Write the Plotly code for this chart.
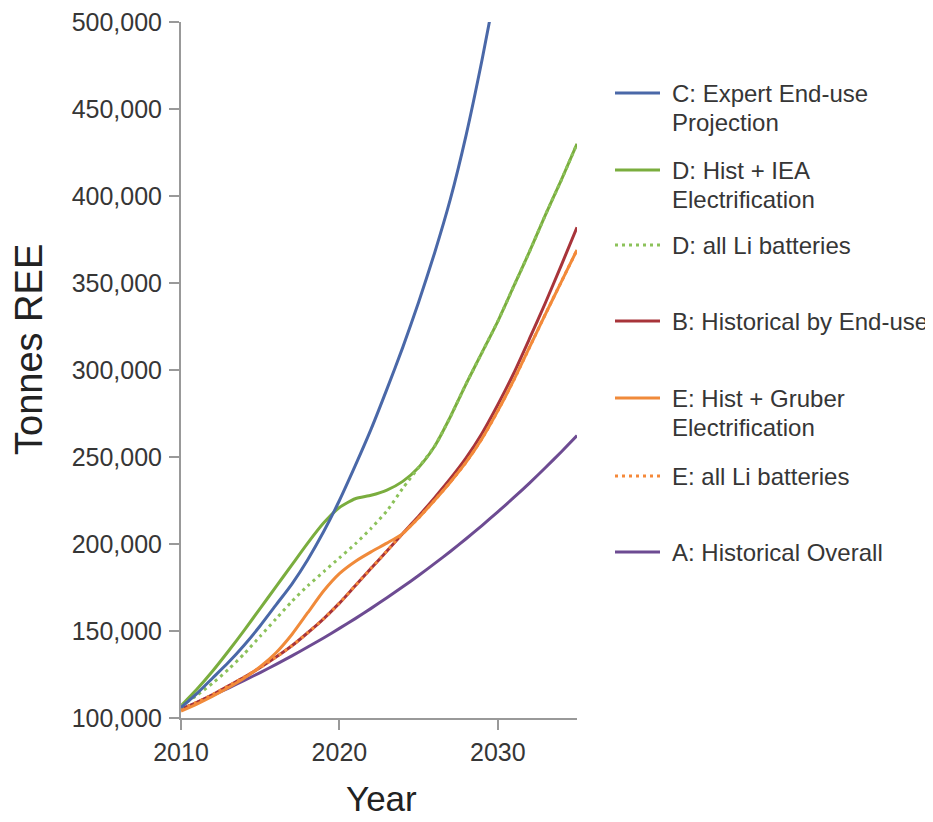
import plotly.graph_objects as go

years = list(range(2010, 2036))

# values in tonnes REE
c_expert = [106000, 114000, 123000, 132000, 142000, 153000, 165000, 177000, 191000, 207000,
            225000, 245000, 266000, 289000, 313000, 339000, 367000, 398000, 435000, 478000,
            525000]
d_iea = [107000, 116500, 127000, 138500, 150500, 163000, 175500, 188000, 200500, 212000,
         221000, 226000, 228000, 231000, 236000, 244000, 256000, 273000, 292000, 310000,
         328000, 348000, 368000, 389000, 409000, 430000]
d_li = [107000, 113000, 120000, 128000, 137000, 147000, 157000, 167000, 176000, 184000,
        192000, 200000, 209000, 219000, 232000, 244000, 256000, 273000, 292000, 310000,
        328000, 348000, 368000, 389000, 409000, 430000]
b_hist_enduse = [105000, 109000, 113500, 118500, 123500, 129000, 135000, 141500, 149000, 157000,
                 166000, 176000, 186000, 196000, 206000, 216000, 226500, 237500, 249500, 263500,
                 280000, 298000, 318000, 338500, 360000, 382000]
e_gruber = [104000, 108000, 112500, 117500, 123000, 129500, 137500, 148000, 160500, 173000,
            183000, 190000, 195500, 200500, 206000, 215000, 225000, 235500, 247000, 260500,
            276500, 294000, 313000, 332000, 350500, 369000]
e_li = [105000, 109000, 113500, 118500, 123500, 129000, 135000, 141500, 149000, 157000,
        166000, 176000, 186000, 196000, 206000, 215000, 225000, 235500, 247000, 260500,
        276500, 294000, 313000, 332000, 350500, 369000]
a_hist_overall = [105000, 108900, 113000, 117200, 121600, 126100, 130800, 135700, 140800, 146000,
                  151500, 157100, 163000, 169100, 175400, 181900, 188700, 195700, 203000, 210600,
                  218500, 226600, 235000, 243800, 252900, 262300]

x_ticks = [2010, 2020, 2030]
y_ticks = [100000, 150000, 200000, 250000, 300000, 350000, 400000, 450000, 500000]

BLUE = "#4a68a8"
GREEN = "#7aad3e"
GREEN_DOT = "#8cc25a"
RED = "#a8343a"
ORANGE = "#f08a3a"
ORANGE_DOT = "#f5893a"
PURPLE = "#6d4b92"
TXT = "#363636"
AXIS = "#999999"
FONT = "Liberation Sans, Arial, sans-serif"
DOT = "3px,4px"

series = [
    ("A: Historical Overall", a_hist_overall, PURPLE, "solid"),
    ("B: Historical by End-use", b_hist_enduse, RED, "solid"),
    ("E: Hist + Gruber Electrification", e_gruber, ORANGE, "solid"),
    ("E: all Li batteries", e_li, ORANGE_DOT, DOT),
    ("D: Hist + IEA Electrification", d_iea, GREEN, "solid"),
    ("D: all Li batteries", d_li, GREEN_DOT, DOT),
    ("C: Expert End-use Projection", c_expert, BLUE, "solid"),
]

fig = go.Figure()
for name, vals, col, dash in series:
    fig.add_trace(go.Scatter(
        x=years[:len(vals)], y=vals, mode="lines", name=name,
        line=dict(color=col, width=3, dash=dash, shape="spline", smoothing=0.6),
        showlegend=False,
    ))

# page body has an 8px margin, so the figure is drawn 8px smaller and offset
OFF = 8
W, H = 933 - OFF, 822 - OFF
L, T = 181 - OFF, 22 - OFF
PR, PB = 577 - OFF, 718 - OFF
R, B = W - PR, H - PB
PW, PH = PR - L, PB - T


def px(x_ref):
    return (x_ref - OFF - L) / PW


def py(y_ref):
    return (PB - (y_ref - OFF)) / PH


legend_items = [
    (["C: Expert End-use", "Projection"], BLUE, "solid", 93),
    (["D: Hist + IEA", "Electrification"], GREEN, "solid", 170),
    (["D: all Li batteries"], GREEN_DOT, DOT, 245),
    (["B: Historical by End-use"], RED, "solid", 321),
    (["E: Hist + Gruber", "Electrification"], ORANGE, "solid", 398),
    (["E: all Li batteries"], ORANGE_DOT, DOT, 476),
    (["A: Historical Overall"], PURPLE, "solid", 552),
]

shapes = []
annotations = []
for lines, col, dash, yl in legend_items:
    shapes.append(dict(type="line", xref="paper", yref="paper",
                       x0=px(615), x1=px(660), y0=py(yl), y1=py(yl),
                       line=dict(color=col, width=3, dash=dash)))
    for i, t in enumerate(lines):
        annotations.append(dict(text=t, xref="paper", yref="paper",
                                x=px(670), y=py(yl + 29 * i), xanchor="left", yanchor="middle",
                                showarrow=False,
                                font=dict(family=FONT, size=24, color=TXT)))

annotations.append(dict(text="Tonnes REE", xref="paper", yref="paper", x=px(29), y=py(350),
                        xanchor="center", yanchor="middle", textangle=-90, showarrow=False,
                        font=dict(family=FONT, size=38, color="#222222")))
annotations.append(dict(text="Year", xref="paper", yref="paper", x=px(381), y=py(798),
                        xanchor="center", yanchor="middle", showarrow=False,
                        font=dict(family=FONT, size=35, color="#222222")))

axis_common = dict(showgrid=False, zeroline=False, showline=True, linecolor=AXIS, linewidth=2,
                   ticks="outside", ticklen=10, tickwidth=2, tickcolor=AXIS, automargin=False,
                   ticklabeloverflow="allow",
                   tickfont=dict(family=FONT, size=25, color=TXT))

fig.update_layout(
    width=W, height=H,
    margin=dict(l=L, r=R, t=T, b=B, pad=0, autoexpand=False),
    paper_bgcolor="white", plot_bgcolor="white",
    xaxis=dict(range=[2010, 2035], tickmode="array", tickvals=x_ticks,
               ticktext=[str(v) for v in x_ticks], ticklabelstandoff=1, **axis_common),
    yaxis=dict(range=[100000, 500000], tickmode="array", tickvals=y_ticks,
               ticktext=[f"{v:,}" for v in y_ticks], ticklabelstandoff=2, **axis_common),
    shapes=shapes, annotations=annotations,
    showlegend=False,
)

fig.write_html("out.html")
